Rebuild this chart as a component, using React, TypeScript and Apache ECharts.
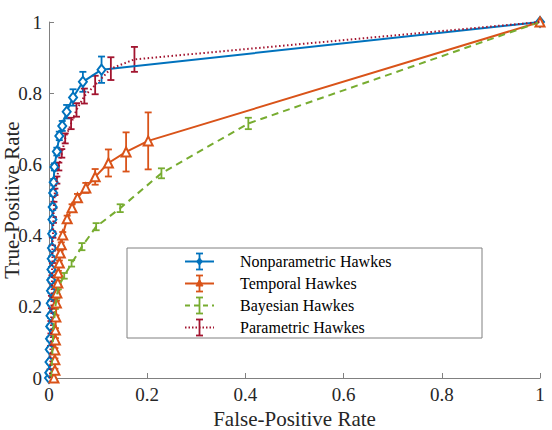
import React, { useEffect, useRef } from "react";
import * as echarts from "echarts";

const FONT = "Liberation Serif";
const BLUE = "#0072BD";
const ORANGE = "#D95319";
const GREEN = "#77AC30";
const CRIMSON = "#A2142F";
const AXIS_GRAY = "#808080";
const TEXT_DARK = "#262626";

// Nonparametric Hawkes
const npFpr = [0, 0.0005, 0.001, 0.0015, 0.002, 0.0025, 0.003, 0.0035, 0.004, 0.0045, 0.005, 0.0055, 0.006, 0.0065, 0.007, 0.0075, 0.0085, 0.0095, 0.011, 0.016, 0.021, 0.027, 0.036, 0.049, 0.069, 0.107, 1];
const npTpr = [0, 0.015, 0.045, 0.08, 0.11, 0.145, 0.175, 0.21, 0.245, 0.275, 0.305, 0.335, 0.365, 0.405, 0.445, 0.48, 0.52, 0.55, 0.593, 0.636, 0.68, 0.708, 0.748, 0.788, 0.832, 0.866, 1];
const npErr = [0, 0.004, 0.004, 0.005, 0.005, 0.005, 0.006, 0.006, 0.006, 0.006, 0.007, 0.007, 0.007, 0.008, 0.008, 0.008, 0.009, 0.009, 0.01, 0.011, 0.012, 0.014, 0.019, 0.023, 0.028, 0.037, 0];

// Temporal Hawkes
const tFpr = [0.01, 0.012, 0.012, 0.012, 0.013, 0.013, 0.014, 0.015, 0.016, 0.018, 0.019, 0.021, 0.023, 0.025, 0.028, 0.037, 0.047, 0.058, 0.075, 0.094, 0.121, 0.157, 0.202, 1];
const tTpr = [0, 0.022, 0.051, 0.079, 0.107, 0.135, 0.171, 0.211, 0.239, 0.267, 0.295, 0.323, 0.351, 0.374, 0.402, 0.447, 0.478, 0.506, 0.534, 0.565, 0.604, 0.635, 0.666, 1];
const tErr = [0, 0.004, 0.004, 0.005, 0.005, 0.005, 0.005, 0.006, 0.006, 0.006, 0.006, 0.007, 0.007, 0.007, 0.008, 0.009, 0.01, 0.011, 0.014, 0.022, 0.038, 0.055, 0.08, 0];

// Bayesian Hawkes
const bFpr = [0.003, 0.005, 0.006, 0.007, 0.008, 0.009, 0.011, 0.013, 0.016, 0.019, 0.031, 0.046, 0.067, 0.096, 0.145, 0.229, 0.406, 1];
const bTpr = [0, 0.02, 0.05, 0.08, 0.11, 0.14, 0.17, 0.2, 0.23, 0.256, 0.287, 0.322, 0.369, 0.425, 0.477, 0.575, 0.715, 1];
const bErr = [0, 0.004, 0.004, 0.005, 0.005, 0.005, 0.006, 0.006, 0.007, 0.007, 0.008, 0.009, 0.01, 0.01, 0.011, 0.014, 0.016, 0];

// Parametric Hawkes
const pFpr = [0.002, 0.002, 0.003, 0.003, 0.004, 0.004, 0.005, 0.005, 0.006, 0.006, 0.007, 0.007, 0.008, 0.009, 0.01, 0.012, 0.016, 0.02, 0.026, 0.033, 0.045, 0.056, 0.072, 0.094, 0.126, 0.174, 1];
const pTpr = [0, 0.02, 0.05, 0.085, 0.12, 0.155, 0.19, 0.225, 0.26, 0.295, 0.33, 0.365, 0.402, 0.444, 0.486, 0.523, 0.556, 0.594, 0.631, 0.673, 0.715, 0.753, 0.792, 0.823, 0.869, 0.895, 1];
const pErr = [0, 0.004, 0.004, 0.005, 0.005, 0.005, 0.006, 0.006, 0.006, 0.007, 0.007, 0.007, 0.008, 0.008, 0.009, 0.009, 0.01, 0.011, 0.012, 0.014, 0.016, 0.019, 0.021, 0.026, 0.032, 0.035, 0];

const legendNames = ["Nonparametric Hawkes", "Temporal Hawkes", "Bayesian Hawkes", "Parametric Hawkes"];

const pairs = (xs: number[], ys: number[]) => xs.map((x, i) => [x, ys[i]]);

function errorBars(name: string, xs: number[], ys: number[], err: number[], color: string) {
  const data = xs
    .map((x, i) => [x, ys[i] - err[i], ys[i] + err[i]])
    .filter((_, i) => err[i] > 0);
  return {
    type: "custom",
    name,
    data,
    encode: { x: 0, y: [1, 2] },
    clip: false,
    silent: true,
    renderItem: (_params: any, api: any) => {
      const x = api.value(0);
      const lo = api.coord([x, api.value(1)]);
      const hi = api.coord([x, api.value(2)]);
      const w = 3.5;
      const style = { stroke: color, lineWidth: 1.8 };
      return {
        type: "group",
        children: [
          { type: "line", shape: { x1: lo[0], y1: lo[1], x2: hi[0], y2: hi[1] }, style },
          { type: "line", shape: { x1: lo[0] - w, y1: lo[1], x2: lo[0] + w, y2: lo[1] }, style },
          { type: "line", shape: { x1: hi[0] - w, y1: hi[1], x2: hi[0] + w, y2: hi[1] }, style },
        ],
      };
    },
  };
}

function legendRow(i: number, color: string, dash: number[] | null, marker: "diamond" | "triangle" | null) {
  const cy = 261.5 + i * 22;
  const cx = 199.5;
  const stroke = { stroke: color, lineWidth: 1.8 };
  const children: any[] = [
    { type: "line", shape: { x1: 185, y1: cy, x2: 214, y2: cy }, style: { stroke: color, lineWidth: 2, lineDash: dash || undefined } },
    { type: "line", shape: { x1: cx, y1: cy - 8, x2: cx, y2: cy + 8 }, style: stroke },
    { type: "line", shape: { x1: cx - 3.5, y1: cy - 8, x2: cx + 3.5, y2: cy - 8 }, style: stroke },
    { type: "line", shape: { x1: cx - 3.5, y1: cy + 8, x2: cx + 3.5, y2: cy + 8 }, style: stroke },
  ];
  if (marker === "diamond") {
    children.push({ type: "polygon", shape: { points: [[cx, cy - 3.5], [cx + 3, cy], [cx, cy + 3.5], [cx - 3, cy]] }, style: { fill: color, stroke: color, lineWidth: 1 } });
  } else if (marker === "triangle") {
    children.push({ type: "polygon", shape: { points: [[cx, cy - 4], [cx + 3.5, cy + 2.5], [cx - 3.5, cy + 2.5]] }, style: { fill: color, stroke: color, lineWidth: 1 } });
  }
  children.push({
    type: "text",
    x: 240,
    y: cy,
    style: { text: legendNames[i], fontSize: 16, fontFamily: FONT, fill: "#000", verticalAlign: "middle", align: "left" },
  });
  return children;
}

export default function App() {
  const ref = useRef<HTMLDivElement>(null);

  useEffect(() => {
    document.body.style.margin = "0";
    if (!ref.current) return;
    const chart = echarts.init(ref.current, undefined, { renderer: "svg" });

    const axisCommon = {
      type: "value" as const,
      min: 0,
      max: 1,
      interval: 0.2,
      axisLine: { show: true, lineStyle: { color: AXIS_GRAY, width: 1 } },
      axisTick: { show: true, inside: true, length: 5, lineStyle: { color: AXIS_GRAY } },
      splitLine: { show: false },
      axisLabel: { color: TEXT_DARK, fontSize: 19, fontFamily: FONT },
      nameLocation: "middle" as const,
      nameMoveOverlap: false,
      nameTextStyle: { color: TEXT_DARK, fontSize: 21, fontFamily: FONT },
    };

    chart.setOption({
      animation: false,
      backgroundColor: "#fff",
      grid: { left: 49, right: 12, top: 22, bottom: 52, containLabel: false, outerBoundsMode: "none" },
      xAxis: { ...axisCommon, name: "False-Positive Rate", nameGap: 30, axisLabel: { ...axisCommon.axisLabel, margin: 7 } },
      yAxis: { ...axisCommon, name: "True-Positive Rate", nameGap: 27, axisLabel: { ...axisCommon.axisLabel, margin: 7 } },
      series: [
        {
          type: "line",
          name: legendNames[0],
          data: pairs(npFpr, npTpr),
          showSymbol: true,
          symbol: "emptyDiamond",
          symbolSize: [8, 10],
          lineStyle: { color: BLUE, width: 2 },
          itemStyle: { color: BLUE, borderWidth: 1.5 },
          z: 3,
        },
        errorBars(legendNames[0], npFpr, npTpr, npErr, BLUE),
        {
          type: "line",
          name: legendNames[1],
          data: pairs(tFpr, tTpr),
          showSymbol: true,
          symbol: "emptyTriangle",
          symbolSize: 9,
          lineStyle: { color: ORANGE, width: 2 },
          itemStyle: { color: ORANGE, borderWidth: 1.5 },
          z: 4,
        },
        errorBars(legendNames[1], tFpr, tTpr, tErr, ORANGE),
        {
          type: "line",
          name: legendNames[2],
          data: pairs(bFpr, bTpr),
          showSymbol: false,
          symbol: "none",
          lineStyle: { color: GREEN, width: 2, type: [7, 5] },
          z: 5,
        },
        errorBars(legendNames[2], bFpr, bTpr, bErr, GREEN),
        {
          type: "line",
          name: legendNames[3],
          data: pairs(pFpr, pTpr),
          showSymbol: false,
          symbol: "none",
          lineStyle: { color: CRIMSON, width: 2, type: [1.5, 2.5] },
          z: 6,
        },
        errorBars(legendNames[3], pFpr, pTpr, pErr, CRIMSON),
      ],
      graphic: [
        {
          type: "group",
          z: 100,
          children: [
            { type: "rect", shape: { x: 127, y: 248, width: 355, height: 90 }, style: { fill: "#fff", stroke: AXIS_GRAY, lineWidth: 1 } },
            ...legendRow(0, BLUE, null, "diamond"),
            ...legendRow(1, ORANGE, null, "triangle"),
            ...legendRow(2, GREEN, [5, 4], null),
            ...legendRow(3, CRIMSON, [1.5, 2], null),
          ],
        },
      ],
    });

    return () => chart.dispose();
  }, []);

  return <div ref={ref} style={{ width: 552, height: 430 }} />;
}
